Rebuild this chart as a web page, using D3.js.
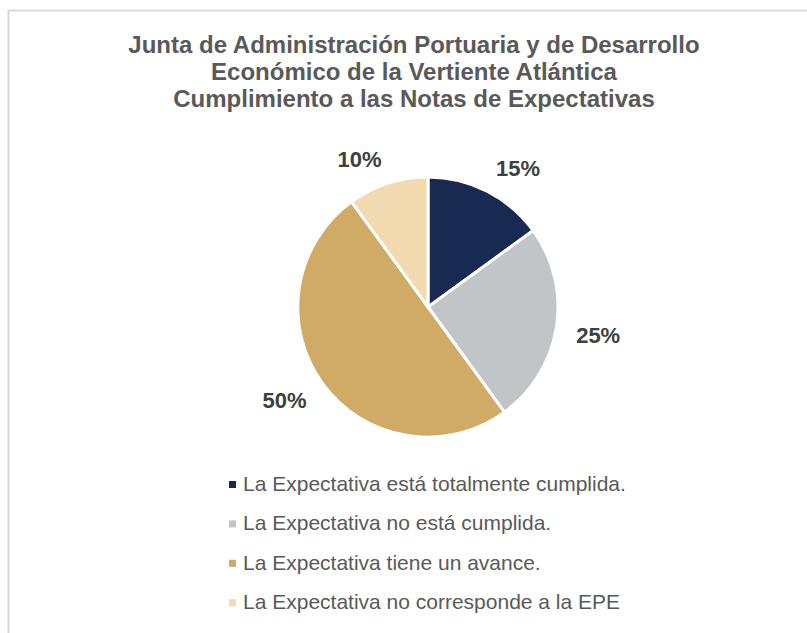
<!DOCTYPE html>
<html>
<head>
<meta charset="utf-8">
<script src="https://cdn.jsdelivr.net/npm/d3@7"></script>
<style>
  body { margin: 0; background: #ffffff; }
  svg { display: block; font-family: "Liberation Sans", Arial, sans-serif; }
</style>
</head>
<body>
<div id="canvas"></div>
<script>
"use strict"

/* ---------- data ---------- */
let titleLines = [
  "Junta de Administración Portuaria y de Desarrollo",
  "Económico de la Vertiente Atlántica",
  "Cumplimiento a las Notas de Expectativas"
];
let categories = [
  "La Expectativa está totalmente cumplida.",
  "La Expectativa no está cumplida.",
  "La Expectativa tiene un avance.",
  "La Expectativa no corresponde a la EPE"
];
let shares = [15, 25, 50, 10];
let sliceColors = ["#182a52", "#c2c5c8", "#cfab66", "#f2dab0"];

/* ---------- canvas ---------- */
let width = 807, height = 633;
let drawing = d3.select("#canvas")
  .append("svg")
  .attr("width", width)
  .attr("height", height);

// chart frame (runs off the right and bottom edges like the screenshot)
let frame = drawing.append("rect")
  .attr("x", 8.5).attr("y", 10.5)
  .attr("width", 820).attr("height", 640)
  .attr("fill", "white")
  .attr("stroke", "#d9d9d9")
  .attr("stroke-width", 2);

/* ---------- title ---------- */
let title = drawing.append("g");
title.selectAll("text")
  .data(titleLines)
  .join("text")
  .attr("x", 414)
  .attr("y", (d, i) => 53 + i * 27)
  .attr("text-anchor", "middle")
  .attr("font-size", "24px")
  .attr("font-weight", "bold")
  .attr("fill", "#595959")
  .text(d => d);

/* ---------- pie ---------- */
let cx = 428, cy = 307, radius = 130;
let pie = d3.pie().sort(null).value(d => d);
let arcs = pie(shares);
let arc = d3.arc().innerRadius(0).outerRadius(radius);

let pieG = drawing.append("g").attr("transform", `translate(${cx},${cy})`);
pieG.selectAll("path")
  .data(arcs)
  .join("path")
  .attr("d", arc)
  .attr("fill", (d, i) => sliceColors[i])
  .attr("stroke", "white")
  .attr("stroke-width", 3)
  .attr("stroke-linejoin", "miter");

/* outside-end labels: anchor on a ring, then push the box away from the pie */
let labelRing = 150;
let labels = pieG.selectAll("text.lbl")
  .data(arcs)
  .join("text")
  .attr("class", "lbl")
  .attr("font-size", "22px")
  .attr("font-weight", "bold")
  .attr("fill", "#404040")
  .attr("text-anchor", "middle")
  .text(d => d.data + "%");

labels.each(function(d) {
  let a = (d.startAngle + d.endAngle) / 2;
  let ux = Math.sin(a), uy = -Math.cos(a);
  let w = this.getBBox().width;
  let x = labelRing * ux + Math.sign(ux) * w / 2;
  let y = labelRing * uy + Math.sign(uy) * 5;
  d3.select(this).attr("x", x).attr("y", y + 8);
});

/* ---------- legend ---------- */
let legend = drawing.append("g").attr("transform", "translate(229,491)");
let rows = legend.selectAll("g")
  .data(categories)
  .join("g")
  .attr("transform", (d, i) => `translate(0,${i * 39.4})`);

rows.append("rect")
  .attr("x", 0).attr("y", -10)
  .attr("width", 7).attr("height", 7)
  .attr("fill", (d, i) => sliceColors[i]);

rows.append("text")
  .attr("x", 14).attr("y", 0)
  .attr("font-size", "21px")
  .attr("fill", "#595959")
  .text(d => d);
</script>
</body>
</html>
